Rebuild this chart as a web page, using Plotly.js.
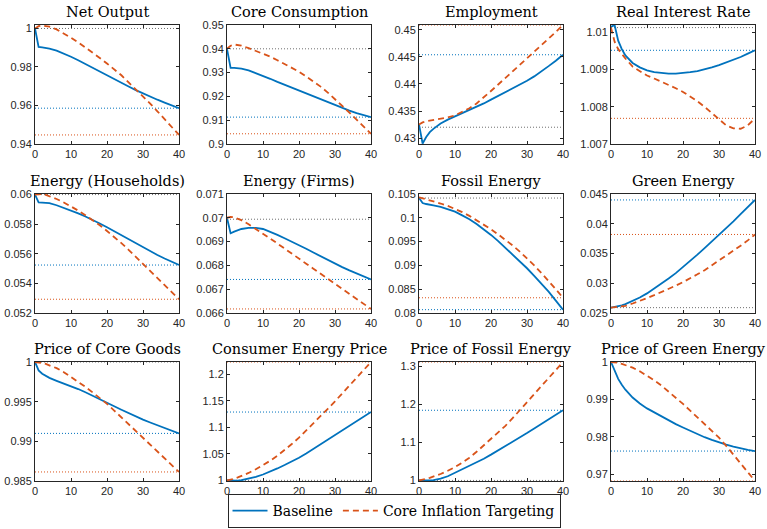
<!DOCTYPE html>
<html>
<head>
<meta charset="utf-8">
<script src="https://cdn.plot.ly/plotly-3.0.1.min.js"></script>
<style>html,body{margin:0;padding:0;background:#fff}#chart{width:767px;height:529px}</style>
</head>
<body>
<div id="chart"></div>
<script>
// ---------- data ----------
const periods = [0,1,2,3,4,6,8,10,12,14,16,18,20,22,24,26,28,30,32,34,36,38,40];

const titles = ["Net Output","Core Consumption","Employment","Real Interest Rate",
  "Energy (Households)","Energy (Firms)","Fossil Energy","Green Energy",
  "Price of Core Goods","Consumer Energy Price","Price of Fossil Energy","Price of Green Energy"];

const seriesNames = ["Baseline","Core Inflation Targeting"];

const baseNetOutput = [1.0,0.9904,0.9902,0.9899,0.9895,0.9885,0.9870,0.9853,0.9835,0.9815,0.9795,0.9775,0.9755,0.9736,0.9717,0.9699,0.9680,0.9662,0.9646,0.9630,0.9615,0.9600,0.9586];
const citNetOutput  = [1.0,1.0012,1.0015,1.0013,1.0009,0.9995,0.9975,0.9952,0.9928,0.9902,0.9875,0.9847,0.9818,0.9788,0.9757,0.9720,0.9685,0.9648,0.9610,0.9570,0.9530,0.9489,0.9447];

const baseCoreCons = [0.9400,0.9320,0.9320,0.9319,0.9317,0.9309,0.9298,0.9286,0.9274,0.9261,0.9249,0.9236,0.9224,0.9212,0.9200,0.9188,0.9174,0.9162,0.9150,0.9140,0.9130,0.9121,0.9113];
const citCoreCons  = [0.9400,0.9413,0.9418,0.9417,0.9413,0.9403,0.9392,0.9380,0.9367,0.9352,0.9337,0.9321,0.9304,0.9284,0.9263,0.9241,0.9216,0.9189,0.9161,0.9132,0.9102,0.9073,0.9043];

const baseEmployment = [0.4325,0.4290,0.4302,0.4311,0.4317,0.4327,0.4334,0.4340,0.4346,0.4351,0.4357,0.4364,0.4371,0.4378,0.4385,0.4391,0.4398,0.4406,0.4414,0.4423,0.4433,0.4443,0.4454];
const citEmployment  = [0.4325,0.4329,0.4331,0.4332,0.4333,0.4335,0.4338,0.4342,0.4348,0.4355,0.4364,0.4375,0.4387,0.4399,0.4411,0.4423,0.4435,0.4447,0.4459,0.4471,0.4484,0.4496,0.4509];

const baseRealRate = [1.01015,1.01020,1.00978,1.00955,1.00938,1.00918,1.00906,1.00898,1.00893,1.00890,1.00889,1.00889,1.00890,1.00893,1.00896,1.00900,1.00906,1.00912,1.00919,1.00926,1.00934,1.00943,1.00952];
const citRealRate  = [1.01013,1.00975,1.00955,1.00942,1.00930,1.00908,1.00895,1.00884,1.00876,1.00868,1.00859,1.00850,1.00840,1.00828,1.00815,1.00800,1.00783,1.00765,1.00750,1.00742,1.00741,1.00750,1.00769];

const baseEnergyHH = [0.06000,0.05948,0.05946,0.05945,0.05942,0.05928,0.05911,0.05892,0.05873,0.05852,0.05830,0.05805,0.05779,0.05752,0.05724,0.05696,0.05669,0.05642,0.05617,0.05592,0.05568,0.05546,0.05524];
const citEnergyHH  = [0.06000,0.06004,0.06003,0.05998,0.05990,0.05970,0.05947,0.05921,0.05892,0.05861,0.05828,0.05793,0.05754,0.05714,0.05672,0.05627,0.05579,0.05530,0.05482,0.05434,0.05387,0.05340,0.05293];

const baseEnergyFirms = [0.06999,0.06935,0.06942,0.06948,0.06953,0.06958,0.06958,0.06953,0.06942,0.06928,0.06914,0.06900,0.06886,0.06870,0.06854,0.06838,0.06822,0.06807,0.06793,0.06779,0.06766,0.06753,0.06741];
const citEnergyFirms  = [0.07000,0.07004,0.07002,0.06997,0.06990,0.06973,0.06954,0.06934,0.06913,0.06892,0.06870,0.06849,0.06828,0.06807,0.06786,0.06765,0.06744,0.06723,0.06702,0.06681,0.06659,0.06638,0.06617];

const baseFossil = [0.1042,0.1031,0.1029,0.1028,0.1026,0.1023,0.1018,0.1013,0.1005,0.0997,0.0987,0.0976,0.0964,0.0951,0.0937,0.0923,0.0909,0.0894,0.0878,0.0862,0.0845,0.0826,0.0807];
const citFossil  = [0.1043,0.1041,0.1039,0.1037,0.1035,0.1030,0.1025,0.1019,0.1012,0.1004,0.0995,0.0986,0.0976,0.0965,0.0954,0.0942,0.0929,0.0915,0.0900,0.0884,0.0868,0.0850,0.0832];

const baseGreen = [0.0259,0.0260,0.0261,0.0263,0.0265,0.0270,0.0276,0.0283,0.0291,0.0299,0.0308,0.0317,0.0327,0.0337,0.0348,0.0359,0.0370,0.0381,0.0393,0.0404,0.0416,0.0428,0.0440];
const citGreen  = [0.0259,0.0260,0.0260,0.0261,0.0262,0.0266,0.0270,0.0275,0.0280,0.0285,0.0290,0.0296,0.0302,0.0308,0.0315,0.0322,0.0330,0.0338,0.0346,0.0354,0.0363,0.0372,0.0382];

const basePriceCore = [1.00000,0.99894,0.99852,0.99825,0.99800,0.99763,0.99730,0.99697,0.99659,0.99619,0.99577,0.99531,0.99486,0.99442,0.99398,0.99354,0.99313,0.99273,0.99237,0.99202,0.99168,0.99134,0.99100];
const citPriceCore  = [1.00000,0.99996,0.99987,0.99975,0.99960,0.99922,0.99872,0.99812,0.99751,0.99686,0.99617,0.99546,0.99472,0.99388,0.99303,0.99219,0.99134,0.99049,0.98960,0.98870,0.98783,0.98698,0.98614];

const baseConsEnergyPrice = [1.0000,0.9993,0.9990,0.9993,1.0003,1.0030,1.0066,1.0110,1.0165,1.0225,1.0290,1.0357,1.0428,1.0508,1.0593,1.0678,1.0763,1.0849,1.0937,1.1025,1.1113,1.1201,1.1289];
const citConsEnergyPrice  = [1.0000,1.0012,1.0030,1.0055,1.0082,1.0140,1.0210,1.0283,1.0370,1.0465,1.0570,1.0685,1.0805,1.0938,1.1073,1.1210,1.1350,1.1490,1.1635,1.1782,1.1930,1.2081,1.2233];

const basePriceFossil = [1.0000,0.9995,0.9994,0.9998,1.0010,1.0045,1.0110,1.0200,1.0285,1.0375,1.0470,1.0573,1.0680,1.0790,1.0902,1.1016,1.1132,1.1250,1.1370,1.1490,1.1610,1.1730,1.1850];
const citPriceFossil  = [1.0000,1.0015,1.0040,1.0070,1.0100,1.0170,1.0255,1.0350,1.0470,1.0600,1.0755,1.0920,1.1094,1.1265,1.1440,1.1640,1.1850,1.2060,1.2270,1.2480,1.2690,1.2905,1.3122];

const basePriceGreen = [1.0000,0.9975,0.9955,0.9939,0.9926,0.9905,0.9889,0.9876,0.9865,0.9854,0.9844,0.9834,0.9825,0.9816,0.9807,0.9799,0.9792,0.9785,0.9779,0.9774,0.9769,0.9765,0.9762];
const citPriceGreen  = [1.0000,0.9999,0.9998,0.9995,0.9992,0.9985,0.9975,0.9964,0.9951,0.9937,0.9921,0.9905,0.9888,0.9870,0.9852,0.9834,0.9816,0.9798,0.9776,0.9753,0.9729,0.9706,0.9682];

// initial steady state, final value baseline, final value CIT (horizontal reference lines)
const ssInitial  = [1.0,0.9400,0.4320,1.01013,0.0600,0.06994,0.10415,0.0259,1.0,1.0,1.0,1.0];
const ssBaseline = [0.9586,0.9113,0.4454,1.00952,0.05524,0.06741,0.0807,0.0440,0.9910,1.1289,1.1850,0.9762];
const ssCIT      = [0.9447,0.9043,0.4509,1.00769,0.05293,0.06617,0.0832,0.0382,0.98614,1.2233,1.3122,0.9682];

const yLimits = [[0.94,1.0018],[0.9,0.95],[0.4289,0.4509],[1.007,1.0102],
  [0.052,0.06004],[0.066,0.071],[0.08,0.105],[0.025,0.045],
  [0.985,1.0],[0.9988,1.2233],[0.9985,1.3122],[0.9682,1.0]];

const yTickVals = [[0.94,0.96,0.98,1],[0.9,0.91,0.92,0.93,0.94,0.95],[0.43,0.435,0.44,0.445,0.45],[1.007,1.008,1.009,1.01],
  [0.052,0.054,0.056,0.058,0.06],[0.066,0.067,0.068,0.069,0.07,0.071],[0.08,0.085,0.09,0.095,0.1,0.105],[0.025,0.03,0.035,0.04,0.045],
  [0.985,0.99,0.995,1],[1,1.05,1.1,1.15,1.2],[1,1.1,1.2,1.3],[0.97,0.98,0.99,1]];
const yTickText = [["0.94","0.96","0.98","1"],["0.9","0.91","0.92","0.93","0.94","0.95"],["0.43","0.435","0.44","0.445","0.45"],["1.007","1.008","1.009","1.01"],
  ["0.052","0.054","0.056","0.058","0.06"],["0.066","0.067","0.068","0.069","0.07","0.071"],["0.08","0.085","0.09","0.095","0.1","0.105"],["0.025","0.03","0.035","0.04","0.045"],
  ["0.985","0.99","0.995","1"],["1","1.05","1.1","1.15","1.2"],["1","1.1","1.2","1.3"],["0.97","0.98","0.99","1"]];
const xTickVals = [0,10,20,30,40];

const baseline = [baseNetOutput,baseCoreCons,baseEmployment,baseRealRate,baseEnergyHH,baseEnergyFirms,baseFossil,baseGreen,basePriceCore,baseConsEnergyPrice,basePriceFossil,basePriceGreen];
const cit = [citNetOutput,citCoreCons,citEmployment,citRealRate,citEnergyHH,citEnergyFirms,citFossil,citGreen,citPriceCore,citConsEnergyPrice,citPriceFossil,citPriceGreen];

// ---------- layout ----------
const W = 767, H = 529;
const colPx = [[35,179],[227,371],[419,563],[611,755]];
const rowPx = [[25,144],[194,313],[362,481]];
const BLUE = '#0072BD', ORANGE = '#D95319', GREY = '#6e6e6e', AX = '#262626';
const SERIF = 'DejaVu Serif';
const tickFont = {family:'Liberation Sans, Arial, sans-serif', size:11, color:AX};

const traces = [];
const layout = {
  width:W, height:H, autosize:false,
  margin:{l:0,r:0,t:0,b:0},
  paper_bgcolor:'#fff', plot_bgcolor:'#fff',
  showlegend:true,
  legend:{orientation:'h', x:0.5137, xanchor:'center', y:0.002, yanchor:'bottom',
    bordercolor:AX, borderwidth:1, bgcolor:'#fff', itemwidth:35,
    font:{family:SERIF, size:14, color:'#000'}},
  annotations:[]
};

const lastX = periods[periods.length-1];
for (let i=0;i<12;i++){
  const r = Math.floor(i/4), c = i%4;
  const n = i+1, xs = n===1?'x':'x'+n, ys = n===1?'y':'y'+n;
  const xk = n===1?'xaxis':'xaxis'+n, yk = n===1?'yaxis':'yaxis'+n;
  layout[xk] = {domain:[colPx[c][0]/W, colPx[c][1]/W], anchor:ys, range:[0,lastX],
    tickvals:xTickVals, ticks:'inside', ticklen:3, tickcolor:AX, showline:true, linecolor:AX, linewidth:1,
    mirror:'ticks', showgrid:false, zeroline:false, tickfont:tickFont, fixedrange:true};
  layout[yk] = {domain:[1-rowPx[r][1]/H, 1-rowPx[r][0]/H], anchor:xs, range:yLimits[i],
    tickvals:yTickVals[i], ticktext:yTickText[i], ticks:'inside', ticklen:3, tickcolor:AX, showline:true, linecolor:AX, linewidth:1,
    mirror:'ticks', showgrid:false, zeroline:false, tickfont:tickFont, fixedrange:true};
  const ref = [
    [ssInitial[i], GREY],[ssBaseline[i], BLUE],[ssCIT[i], ORANGE]
  ];
  ref.forEach(([v,col])=>{
    traces.push({x:[0,lastX], y:[v,v], xaxis:xs, yaxis:ys, mode:'lines', showlegend:false, hoverinfo:'skip',
      line:{color:col, width:1, dash:'1px,2px'}});
  });
  traces.push({x:periods, y:baseline[i], xaxis:xs, yaxis:ys, mode:'lines', name:seriesNames[0],
    showlegend:i===0, legendgroup:'b', line:{color:BLUE, width:1.8}});
  traces.push({x:periods, y:cit[i], xaxis:xs, yaxis:ys, mode:'lines', name:seriesNames[1],
    showlegend:i===0, legendgroup:'c', line:{color:ORANGE, width:1.8, dash:'6px,4px'}});
  layout.annotations.push({text:titles[i], xref:xs+' domain', yref:ys+' domain', x:0.5, y:1,
    xanchor:'center', yanchor:'bottom', yshift:3, showarrow:false,
    font:{family:SERIF, size:14.5, color:'#000'}});
}

Plotly.newPlot('chart', traces, layout, {staticPlot:true, displayModeBar:false});
</script>
</body>
</html>
